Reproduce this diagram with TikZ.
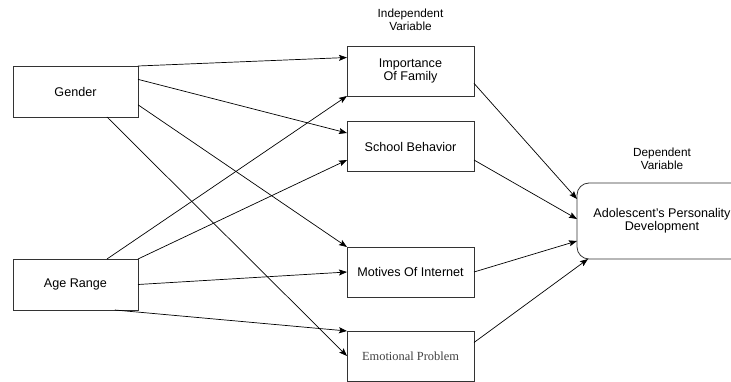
\documentclass[tikz,border=0pt]{standalone}
\usepackage{fontspec}
\setmainfont{Liberation Sans}
\newfontfamily\timesfont{Liberation Serif}
\usetikzlibrary{arrows.meta}

\begin{document}
\begin{tikzpicture}[x=1pt,y=-1pt,
	box/.style={draw=black!80,line width=0.8pt,minimum width=127pt,minimum height=50pt,
		outer sep=0pt,align=center,font=\fontsize{12.6}{13}\selectfont},
	title/.style={align=center,font=\fontsize{11.8}{12.5}\selectfont},
	link/.style={-{Stealth[length=8pt,width=6pt,inset=1.5pt]},line width=0.7pt}]
	\useasboundingbox (0,0) rectangle (731,382);
	% left side
	\node[box,minimum width=125pt,minimum height=51pt] (gender) at (75.5,91.5) {Gender};
	\node[box,minimum width=125pt,minimum height=51pt] (age) at (75.5,284.5) {Age Range};
	% independent variables
	\node[title] (indep) at (410.5,20) {Independent\\Variable};
	\node[box] (family) at (410.5,71) {Importance\\Of Family};
	\node[box] (school) at (410.5,146.5) {School Behavior};
	\node[box] (internet) at (410.5,272) {Motives Of Internet};
	\node[box,font=\timesfont\fontsize{12.4}{13}\selectfont,text=black!75] (emotion) at (410.5,356) {Emotional Problem};
	% dependent variable
	\node[title] (dep) at (662,159) {Dependent\\Variable};
	\node[box,rounded corners=12pt,minimum width=170pt,minimum height=76pt] (person) at (662,221) {Adolescent's Personality\\Development};
	% gender links
	\draw[link] (gender.north east) -- (family.168.4);
	\draw[link] (gender.11.3) -- (school.168.9);
	\draw[link] (gender.-12.2) -- (internet.north west);
	\draw[link] (gender.-39) -- (emotion.west);
	% age links
	\draw[link] (age.39) -- (family.south west);
	\draw[link] (age.north east) -- (school.-168);
	\draw[link] (age.east) -- (internet.west);
	\draw[link] (age.-33) -- (emotion.north west);
	% to dependent
	\draw[link] (family.-11.6) -- ([yshift=22pt]person.west);
	\draw[link] (school.-12) -- ([yshift=2pt]person.west);
	\draw[link] (internet.east) -- ([yshift=-20pt]person.west);
	\draw[link] (emotion.12) -- ([xshift=11pt]person.south west);
\end{tikzpicture}
\end{document}
